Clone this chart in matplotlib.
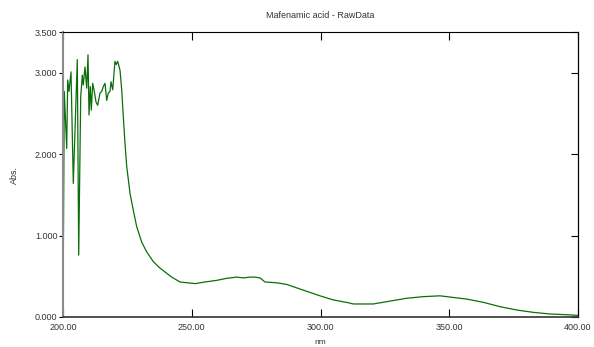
import matplotlib
matplotlib.use("Agg")
import matplotlib.pyplot as plt

# spectrum (nm, absorbance)
wavelength = [200.0, 200.5, 201.44, 201.83, 202.33, 203.11, 204.0, 205.55, 206.10,
              206.87, 207.50, 207.88, 208.54, 209.20, 209.71, 210.10, 210.60, 210.99,
              211.53, 212.16, 212.82, 213.48, 214.37, 215.03, 215.65, 216.31, 216.97,
              217.59, 218.25, 218.64, 219.30, 220.19, 220.70, 221.24, 222.14, 222.80,
              223.42, 224.08, 224.74, 226.02, 227.30, 228.62, 230.56, 232.50, 235.07,
              237.67, 242.21, 245.44, 251.26, 255.15, 259.69, 263.57, 267.46, 270.02,
              272.62, 274.56, 276.50, 278.45, 282.99, 286.87, 293.32, 299.81, 304.97,
              310.80, 312.74, 320.50, 326.99, 333.48, 339.92, 346.41, 351.57, 356.78,
              363.22, 369.71, 376.19, 382.64, 389.13, 395.61, 400.0]
absorbance = [0.0, 2.77, 2.07, 2.91, 2.77, 3.01, 1.64, 3.16, 0.76,
              2.70, 2.97, 2.85, 3.07, 2.81, 3.22, 2.48, 2.83, 2.54,
              2.87, 2.77, 2.64, 2.60, 2.75, 2.77, 2.83, 2.87, 2.66,
              2.75, 2.77, 2.89, 2.79, 3.14, 3.10, 3.14, 3.03, 2.79,
              2.46, 2.13, 1.85, 1.52, 1.31, 1.11, 0.92, 0.80, 0.68,
              0.60, 0.49, 0.43, 0.41, 0.43, 0.45, 0.475, 0.49, 0.48,
              0.49, 0.49, 0.48, 0.43, 0.42, 0.40, 0.33, 0.26, 0.21,
              0.175, 0.16, 0.16, 0.195, 0.23, 0.25, 0.26, 0.24, 0.22,
              0.18, 0.127, 0.086, 0.057, 0.037, 0.028, 0.02]

x_ticks = [200, 250, 300, 350, 400]
y_ticks = [0, 1, 2, 3, 3.5]

plt.rcParams['font.family'] = ['Liberation Sans', 'DejaVu Sans']

fig = plt.figure(figsize=(5.94, 3.47), dpi=100)
ax = fig.add_axes([63 / 594, 30 / 347, 515 / 594, 285 / 347])

ax.plot(wavelength, absorbance, color='#0b6e0b', linewidth=0.9)

ax.set_xlim(200, 400)
ax.set_ylim(0, 3.5)
ax.set_xticks(x_ticks)
ax.set_xticklabels(["%.2f" % v for v in x_ticks])
ax.set_yticks(y_ticks)
ax.set_yticklabels(["%.3f" % v for v in y_ticks])

ax.tick_params(axis='x', direction='in', length=6, width=0.8, top=True, labelsize=6.5,
               labelcolor='#333333', pad=4)
ax.tick_params(axis='y', direction='out', length=3, width=0.8, labelsize=6.5,
               labelcolor='#333333', pad=1)
# right side ticks drawn inward
ax2 = ax.secondary_yaxis('right')
ax2.set_yticks(y_ticks)
ax2.tick_params(direction='in', length=5, width=0.8, labelright=False)

for side in ['top', 'right']:
    ax.spines[side].set_color('black')
ax.spines['left'].set_color('#8a8a8a')
ax.spines['left'].set_linewidth(1.5)
ax.spines['bottom'].set_color('#333333')
ax.spines['bottom'].set_linewidth(1.2)

ax.set_title("Mafenamic acid - RawData", fontsize=6.5, color='#333333', pad=10)
# axis titles placed in figure coords to keep them inside the canvas
fig.text(320 / 594, 4 / 347, "nm", fontsize=6, color='#333333', ha='center', va='center')
fig.text(14 / 594, 1 - 175 / 347, "Abs.", fontsize=6.5, color='#333333', rotation=90,
         ha='center', va='center')

fig.savefig("out.png", dpi=100)
